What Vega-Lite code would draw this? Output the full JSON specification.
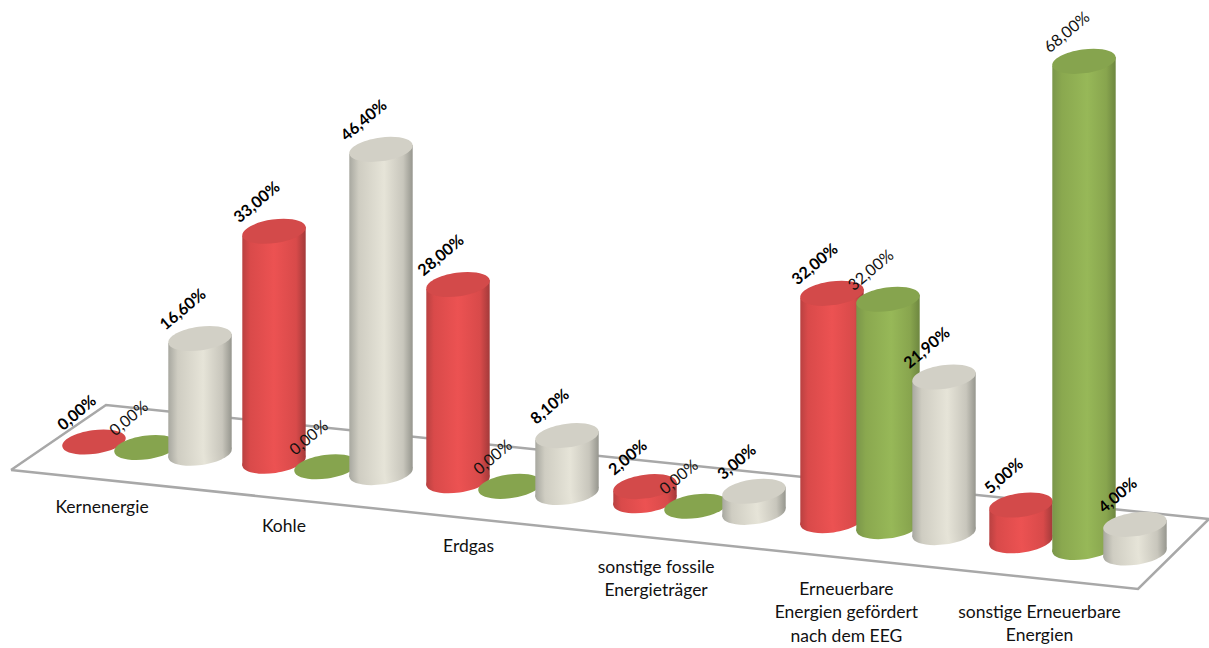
{
"$schema":"https://vega.github.io/schema/vega-lite/v6.json",
"width":1209,"height":648,"autosize":{"type":"none"},"padding":0,
"background":"white","view":{"stroke":null},
"datasets":{"floor":[{"o":0,"u":-0.5,"v":1},{"o":1,"u":-0.5,"v":0},{"o":2,"u":5.5,"v":0},{"o":3,"u":5.5,"v":1},{"o":4,"u":-0.5,"v":1}]},
"data":{"values":[
{"category":"Kernenergie","series":"Reihe 1","value":0},{"category":"Kernenergie","series":"Reihe 2","value":0},{"category":"Kernenergie","series":"Reihe 3","value":16.6},
{"category":"Kohle","series":"Reihe 1","value":33},{"category":"Kohle","series":"Reihe 2","value":0},{"category":"Kohle","series":"Reihe 3","value":46.4},
{"category":"Erdgas","series":"Reihe 1","value":28},{"category":"Erdgas","series":"Reihe 2","value":0},{"category":"Erdgas","series":"Reihe 3","value":8.1},
{"category":"sonstige fossile\nEnergieträger","series":"Reihe 1","value":2},{"category":"sonstige fossile\nEnergieträger","series":"Reihe 2","value":0},{"category":"sonstige fossile\nEnergieträger","series":"Reihe 3","value":3},
{"category":"Erneuerbare\nEnergien gefördert\nnach dem EEG","series":"Reihe 1","value":32},{"category":"Erneuerbare\nEnergien gefördert\nnach dem EEG","series":"Reihe 2","value":32},{"category":"Erneuerbare\nEnergien gefördert\nnach dem EEG","series":"Reihe 3","value":21.9},
{"category":"sonstige Erneuerbare\nEnergien","series":"Reihe 1","value":5},{"category":"sonstige Erneuerbare\nEnergien","series":"Reihe 2","value":68},{"category":"sonstige Erneuerbare\nEnergien","series":"Reihe 3","value":4}
]},
"transform":[
{"window":[{"op":"row_number","as":"n"}]},
{"calculate":"floor((datum.n-1)/3)","as":"i"},
{"calculate":"(datum.n-1)%3","as":"s"},
{"calculate":"94+178.65*datum.i+1.35*datum.i*datum.i+[[0,0,1.3,2.9,1.8,0],[52,52,53.3,53.9,57.8,63],[106,107,110.3,111.9,113.8,114]][datum.s][datum.i]","as":"cx"},
{"calculate":"442+0.1066*(datum.cx-94)","as":"by"},
{"calculate":"datum.by-datum.value*(6.92+0.046*datum.i)","as":"ty"},
{"calculate":"replace(format(datum.value,'.2f'),'.',',')+'%'","as":"label"},
{"calculate":"102+180.5*datum.i+1.4*datum.i*datum.i","as":"lx"},
{"calculate":"498.5+18.5*datum.i+0.5*datum.i*datum.i","as":"ly"},
{"calculate":"[-1,1]","as":"side"}
],
"encoding":{
"x":{"field":"cx","type":"quantitative","scale":{"domain":[0,1209],"nice":false,"zero":false},"axis":null},
"y":{"field":"by","type":"quantitative","scale":{"domain":[648,0],"nice":false,"zero":false},"axis":null}
},
"layer":[
{"data":{"name":"floor"},
 "transform":[
 {"calculate":"(datum.u+0.5)/6","as":"a"},
 {"calculate":"(106+1103*datum.a)*(1-datum.v)+(11+1127*datum.a)*datum.v","as":"fx"},
 {"calculate":"(405+114*datum.a)*(1-datum.v)+(470+119*datum.a)*datum.v","as":"fy"}],
 "mark":{"type":"line","stroke":"#a8a8a8","strokeWidth":2.5,"strokeJoin":"miter"},
 "encoding":{"x":{"field":"fx","type":"quantitative"},"y":{"field":"fy","type":"quantitative"},"order":{"field":"o"}}},
{"transform":[{"filter":"datum.s==0"}],"layer":[
 {"transform":[{"filter":"datum.value>0"}],"mark":{"type":"point","filled":true,"opacity":1,"size":4096,"angle":-8,"shape":"M-1,0A1,0.37 0 1 1 1,0A1,0.37 0 1 1 -1,0Z","color":{"x1":0,"x2":1,"y1":0,"y2":0,"gradient":"linear","stops":[{"offset":0,"color":"#b94141"},{"offset":0.12,"color":"#d94a4a"},{"offset":0.5,"color":"#ec5252"},{"offset":0.85,"color":"#d84a4a"},{"offset":1,"color":"#a33a3a"}]}}},
 {"transform":[{"filter":"datum.value>0"},{"flatten":["side"]},{"calculate":"datum.cx+31.7*datum.side","as":"ex"},{"calculate":"datum.ty-4.45*datum.side","as":"et"},{"calculate":"datum.by-4.45*datum.side","as":"eb"}],
  "mark":{"type":"area","color":{"x1":0,"x2":1,"y1":0,"y2":0,"gradient":"linear","stops":[{"offset":0,"color":"#b94141"},{"offset":0.12,"color":"#d94a4a"},{"offset":0.5,"color":"#ec5252"},{"offset":0.85,"color":"#d84a4a"},{"offset":1,"color":"#a33a3a"}]}},
  "encoding":{"x":{"field":"ex","type":"quantitative"},"y":{"field":"et","type":"quantitative"},"y2":{"field":"eb"},"detail":{"field":"n"}}},
 {"mark":{"type":"point","filled":true,"opacity":1,"size":4096,"angle":-8,"shape":"M-1,0A1,0.37 0 1 1 1,0A1,0.37 0 1 1 -1,0Z","color":"#d34a4a"},
  "encoding":{"y":{"field":"ty","type":"quantitative"}}}
]},
{"transform":[{"filter":"datum.s==1"}],"layer":[
 {"transform":[{"filter":"datum.value>0"}],"mark":{"type":"point","filled":true,"opacity":1,"size":4096,"angle":-8,"shape":"M-1,0A1,0.37 0 1 1 1,0A1,0.37 0 1 1 -1,0Z","color":{"x1":0,"x2":1,"y1":0,"y2":0,"gradient":"linear","stops":[{"offset":0,"color":"#7a964a"},{"offset":0.15,"color":"#8aa84f"},{"offset":0.55,"color":"#97b858"},{"offset":0.85,"color":"#88a54e"},{"offset":1,"color":"#6e8740"}]}}},
 {"transform":[{"filter":"datum.value>0"},{"flatten":["side"]},{"calculate":"datum.cx+31.7*datum.side","as":"ex"},{"calculate":"datum.ty-4.45*datum.side","as":"et"},{"calculate":"datum.by-4.45*datum.side","as":"eb"}],
  "mark":{"type":"area","color":{"x1":0,"x2":1,"y1":0,"y2":0,"gradient":"linear","stops":[{"offset":0,"color":"#7a964a"},{"offset":0.15,"color":"#8aa84f"},{"offset":0.55,"color":"#97b858"},{"offset":0.85,"color":"#88a54e"},{"offset":1,"color":"#6e8740"}]}},
  "encoding":{"x":{"field":"ex","type":"quantitative"},"y":{"field":"et","type":"quantitative"},"y2":{"field":"eb"},"detail":{"field":"n"}}},
 {"mark":{"type":"point","filled":true,"opacity":1,"size":4096,"angle":-8,"shape":"M-1,0A1,0.37 0 1 1 1,0A1,0.37 0 1 1 -1,0Z","color":"#86a44e"},
  "encoding":{"y":{"field":"ty","type":"quantitative"}}}
]},
{"transform":[{"filter":"datum.s==2"}],"layer":[
 {"mark":{"type":"point","filled":true,"opacity":1,"size":4096,"angle":-8,"shape":"M-1,0A1,0.37 0 1 1 1,0A1,0.37 0 1 1 -1,0Z","color":{"x1":0,"x2":1,"y1":0,"y2":0,"gradient":"linear","stops":[{"offset":0,"color":"#a8a8a0"},{"offset":0.15,"color":"#cfcdc2"},{"offset":0.55,"color":"#e6e4d8"},{"offset":0.85,"color":"#c8c6bc"},{"offset":1,"color":"#96968e"}]}}},
 {"transform":[{"flatten":["side"]},{"calculate":"datum.cx+31.7*datum.side","as":"ex"},{"calculate":"datum.ty-4.45*datum.side","as":"et"},{"calculate":"datum.by-4.45*datum.side","as":"eb"}],
  "mark":{"type":"area","color":{"x1":0,"x2":1,"y1":0,"y2":0,"gradient":"linear","stops":[{"offset":0,"color":"#a8a8a0"},{"offset":0.15,"color":"#cfcdc2"},{"offset":0.55,"color":"#e6e4d8"},{"offset":0.85,"color":"#c8c6bc"},{"offset":1,"color":"#96968e"}]}},
  "encoding":{"x":{"field":"ex","type":"quantitative"},"y":{"field":"et","type":"quantitative"},"y2":{"field":"eb"},"detail":{"field":"n"}}},
 {"mark":{"type":"point","filled":true,"opacity":1,"size":4096,"angle":-8,"shape":"M-1,0A1,0.37 0 1 1 1,0A1,0.37 0 1 1 -1,0Z","color":"#d2d0c6"},
  "encoding":{"y":{"field":"ty","type":"quantitative"}}}
]},
{"transform":[{"filter":"datum.s==1"}],"mark":{"type":"text","font":"Lato","fontSize":16,"fontWeight":"normal","angle":-40,"align":"center","baseline":"middle","dx":5.6,"dy":-33,"color":"#111111"},
 "encoding":{"y":{"field":"ty","type":"quantitative"},"text":{"field":"label"}}},
{"transform":[{"filter":"datum.s!=1"}],"mark":{"type":"text","font":"Lato","fontSize":16,"fontWeight":"bold","angle":-40,"align":"center","baseline":"middle","dx":5.6,"dy":-33,"color":"#000000"},
 "encoding":{"y":{"field":"ty","type":"quantitative"},"text":{"field":"label"}}},
{"transform":[{"filter":"datum.s==0"}],"mark":{"type":"text","font":"Lato","fontSize":17.5,"align":"center","baseline":"top","lineBreak":"\n","lineHeight":23.5,"color":"#111111"},
 "encoding":{"x":{"field":"lx","type":"quantitative"},"y":{"field":"ly","type":"quantitative"},"text":{"field":"category"}}}
]
}
